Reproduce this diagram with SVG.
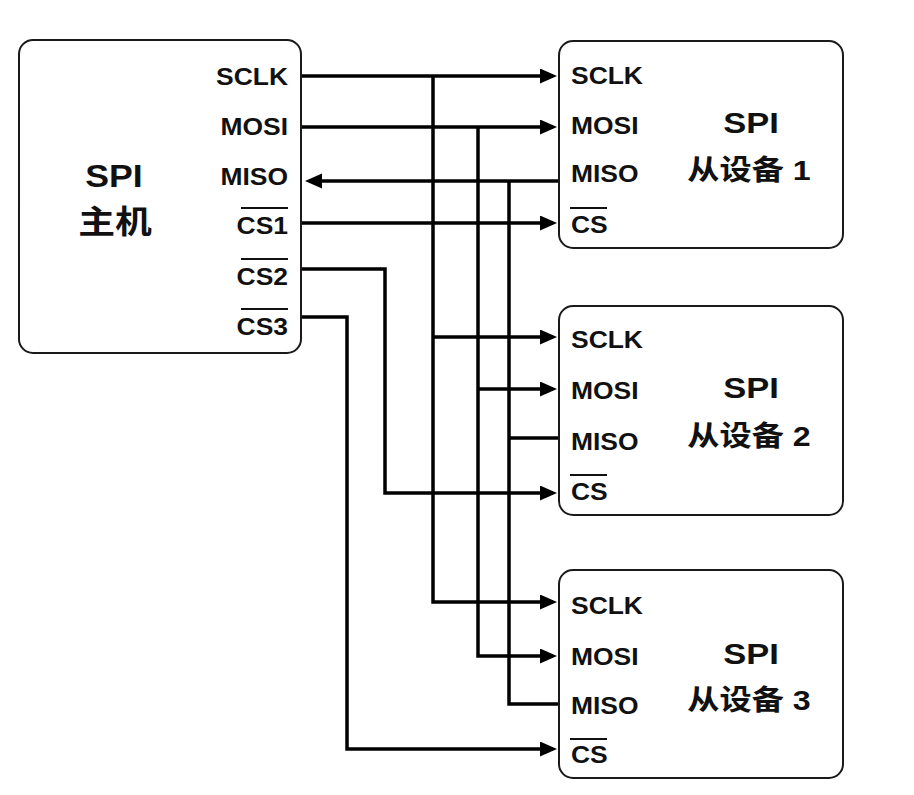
<svg xmlns="http://www.w3.org/2000/svg" width="914" height="795" viewBox="0 0 914 795">
<style>
.box{fill:#fff;stroke:#1a1a1a;stroke-width:2}
.pin{font-family:"Liberation Sans",Arial,sans-serif;font-weight:bold;font-size:23px;fill:#111}
.pinR{font-family:"Liberation Sans",Arial,sans-serif;font-weight:bold;font-size:23px;fill:#111;text-anchor:end}
.head{font-family:"Liberation Sans","Noto Sans CJK SC",sans-serif;font-weight:bold;fill:#111;text-anchor:middle}
.ov{stroke:#111;stroke-width:2}
.w{fill:none;stroke:#000;stroke-width:3.5;stroke-linejoin:miter}
.a{marker-end:url(#arr)}
</style>
<defs>
<marker id="arr" markerUnits="userSpaceOnUse" markerWidth="18" markerHeight="16" refX="13" refY="7.5" orient="auto" viewBox="0 0 18 16">
<path d="M0,0 L17,7.5 L0,15 z" fill="#000"/>
</marker>
</defs>
<rect width="914" height="795" fill="#fff"/>
<g id="connectors">
<path class="w a" d="M301,76 H553"/>
<path class="w a" d="M433,76 V602 H553"/>
<path class="w a" d="M433,337 H553"/>
<path class="w a" d="M301,127 H553"/>
<path class="w a" d="M478,127 V656 H553"/>
<path class="w a" d="M478,389 H553"/>
<path class="w a" d="M559,181 H309"/>
<path class="w" d="M509,181 V704 H559"/>
<path class="w" d="M509,438 H559"/>
<path class="w a" d="M301,223 H553"/>
<path class="w a" d="M301,269 H385 V493 H553"/>
<path class="w a" d="M301,317 H347 V749 H553"/>
</g>
<g id="master">
<rect class="box" x="19" y="40" width="282" height="313" rx="14"/>
<text class="head" font-size="31" transform="translate(114,187) scale(1.15,1)">SPI</text>
<text class="head" font-size="32" transform="translate(115,233) scale(1.15,1)">主机</text>
<text class="pinR" transform="translate(288,85) scale(1.15,1)">SCLK</text>
<text class="pinR" transform="translate(288,135) scale(1.15,1)">MOSI</text>
<text class="pinR" transform="translate(288,185) scale(1.15,1)">MISO</text>
<text class="pinR" transform="translate(288,234) scale(1.15,1)">CS1</text>
<text class="pinR" transform="translate(288,285) scale(1.15,1)">CS2</text>
<text class="pinR" transform="translate(288,335) scale(1.15,1)">CS3</text>
<line class="ov" x1="241" y1="208" x2="288" y2="208"/>
<line class="ov" x1="241" y1="259" x2="288" y2="259"/>
<line class="ov" x1="241" y1="309" x2="288" y2="309"/>
</g>
<g id="slave1">
<rect class="box" x="559" y="41" width="284" height="207" rx="14"/>
<text class="pin" transform="translate(571,84) scale(1.15,1)">SCLK</text>
<text class="pin" transform="translate(571,134) scale(1.15,1)">MOSI</text>
<text class="pin" transform="translate(571,182) scale(1.15,1)">MISO</text>
<text class="pin" transform="translate(571,233) scale(1.15,1)">CS</text>
<line class="ov" x1="570" y1="208" x2="607" y2="208"/>
<text class="head" font-size="30" transform="translate(751,133) scale(1.15,1)">SPI</text>
<text class="head" font-size="28" transform="translate(749,180) scale(1.15,1)">从设备 1</text>
</g>
<g id="slave2">
<rect class="box" x="559" y="306" width="284" height="209" rx="14"/>
<text class="pin" transform="translate(571,348) scale(1.15,1)">SCLK</text>
<text class="pin" transform="translate(571,399) scale(1.15,1)">MOSI</text>
<text class="pin" transform="translate(571,450) scale(1.15,1)">MISO</text>
<text class="pin" transform="translate(571,500) scale(1.15,1)">CS</text>
<line class="ov" x1="570" y1="475" x2="607" y2="475"/>
<text class="head" font-size="30" transform="translate(751,398) scale(1.15,1)">SPI</text>
<text class="head" font-size="28" transform="translate(749,446) scale(1.15,1)">从设备 2</text>
</g>
<g id="slave3">
<rect class="box" x="559" y="570" width="284" height="208" rx="14"/>
<text class="pin" transform="translate(571,614) scale(1.15,1)">SCLK</text>
<text class="pin" transform="translate(571,665) scale(1.15,1)">MOSI</text>
<text class="pin" transform="translate(571,714) scale(1.15,1)">MISO</text>
<text class="pin" transform="translate(571,763) scale(1.15,1)">CS</text>
<line class="ov" x1="570" y1="739" x2="607" y2="739"/>
<text class="head" font-size="30" transform="translate(751,664) scale(1.15,1)">SPI</text>
<text class="head" font-size="28" transform="translate(749,710) scale(1.15,1)">从设备 3</text>
</g>
</svg>
